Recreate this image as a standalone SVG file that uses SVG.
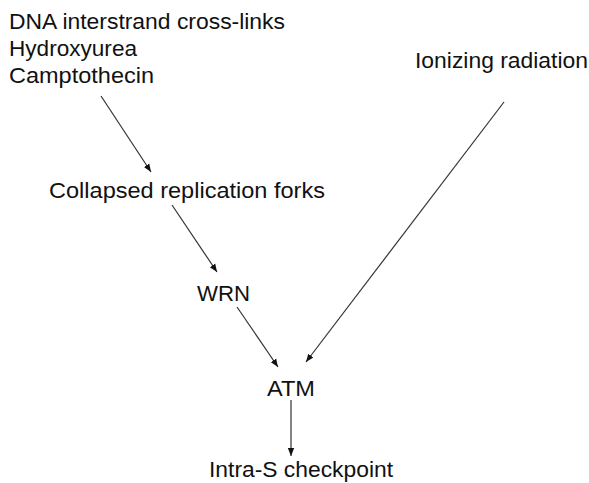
<svg xmlns="http://www.w3.org/2000/svg" width="589" height="483" viewBox="0 0 589 483">
<style>
text{font-family:"Liberation Sans",Arial,sans-serif;font-size:22px;fill:#111}
.c line{stroke:#333;stroke-width:1.2;marker-end:url(#ah)}
</style>
<defs>
<marker id="ah" viewBox="0 0 10 10" refX="10" refY="5" markerWidth="8" markerHeight="8" markerUnits="userSpaceOnUse" orient="auto">
<path d="M0,1 L10,5 L0,9 Z" fill="#111"/>
</marker>
</defs>
<rect width="589" height="483" fill="#fff"/>
<g id="agents">
<text x="9" y="29" textLength="276" lengthAdjust="spacingAndGlyphs">DNA interstrand cross-links</text>
<text x="9" y="56" textLength="128" lengthAdjust="spacingAndGlyphs">Hydroxyurea</text>
<text x="9" y="83" textLength="145" lengthAdjust="spacingAndGlyphs">Camptothecin</text>
</g>
<g id="ir"><text x="415" y="68" textLength="173" lengthAdjust="spacingAndGlyphs">Ionizing radiation</text></g>
<g id="forks"><text x="49" y="198" textLength="276" lengthAdjust="spacingAndGlyphs">Collapsed replication forks</text></g>
<g id="wrn"><text x="197" y="301" textLength="53" lengthAdjust="spacingAndGlyphs">WRN</text></g>
<g id="atm"><text x="267" y="396" textLength="48" lengthAdjust="spacingAndGlyphs">ATM</text></g>
<g id="checkpoint"><text x="209" y="477" textLength="184" lengthAdjust="spacingAndGlyphs">Intra-S checkpoint</text></g>
<g class="c" id="connectors">
<line x1="101" y1="96" x2="151" y2="172"/>
<line x1="172" y1="205" x2="217" y2="272"/>
<line x1="237" y1="307" x2="278" y2="367"/>
<line x1="504" y1="102" x2="306" y2="362"/>
<line x1="291" y1="400" x2="291" y2="456"/>
</g>
</svg>
